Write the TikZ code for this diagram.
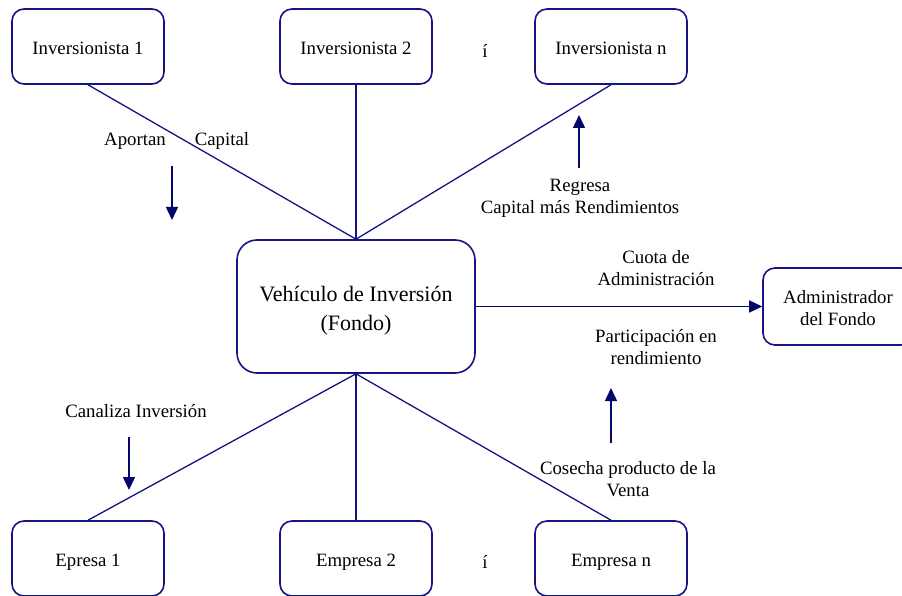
\documentclass[tikz,border=0pt]{standalone}
\usepackage{fontspec}
\setmainfont{Liberation Serif}
\usetikzlibrary{arrows.meta}
\definecolor{navyline}{RGB}{20,20,130}
\definecolor{navyarrow}{RGB}{5,5,110}
\begin{document}
\begin{tikzpicture}[x=1pt,y=-1pt,
 boxbase/.style={draw=navyline,line width=1.6pt,rounded corners=12pt,minimum width=152pt,minimum height=75pt,inner sep=0pt,font=\fontsize{18.8}{22}\selectfont,align=center},
 box/.style={boxbase,text height=16pt,text depth=0.6pt},
 bigbox/.style={boxbase,rounded corners=20pt,minimum width=238pt,minimum height=133pt,font=\fontsize{22}{29}\selectfont},
 conn/.style={draw=navyline,line width=1.3pt},
 lbl/.style={font=\fontsize{18.8}{22}\selectfont,align=center,inner sep=0pt},
 flow/.style={draw=navyarrow,line width=1.5pt,-{Triangle[width=12pt,length=13pt]}}]
\useasboundingbox (0,0) rectangle (902,596);
% boxes
\node[box] (inv1) at (88,46.5) {Inversionista 1};
\node[box] (inv2) at (356,46.5) {Inversionista 2};
\node[box] (invn) at (611,46.5) {Inversionista n};
\node[lbl] (dots1) at (485,50.5) {í};
\node[bigbox] (veh) at (356,306.5) {\rule{0pt}{24pt}Vehículo de Inversión\\(Fondo)};
\node[boxbase,minimum width=150pt,minimum height=77pt] (adm) at (838,306.5) {\rule{0pt}{16.5pt}Administrador\\del Fondo};
\node[box] (e1) at (88,558.5) {Epresa 1};
\node[box] (e2) at (356,558.5) {Empresa 2};
\node[box] (en) at (611,558.5) {Empresa n};
\node[lbl] (dots2) at (485,561.5) {í};
% connectors
\draw[conn] (inv1.south) -- (veh.north);
\draw[conn] (inv2.south) -- (veh.north);
\draw[conn] (invn.south) -- (veh.north);
\draw[conn] (veh.south) -- (e1.north);
\draw[conn] (veh.south) -- (e2.north);
\draw[conn] (veh.south) -- (en.north);
\draw[flow] (veh.east) -- (adm.west);
% labels
\node[lbl] (l1) at (135,141) {Aportan};
\node[lbl] (l2) at (222,141) {Capital};
\node[lbl] (l3) at (580,198.5) {Regresa\\Capital más Rendimientos};
\node[lbl] (l4) at (656,268) {Cuota de\\Administración};
\node[lbl] (l5) at (656,347) {Participación en\\rendimiento};
\node[lbl] (l6) at (628,479) {Cosecha producto de la\\Venta};
\node[lbl] (l7) at (136,411) {Canaliza Inversión};
% free arrows
\coordinate (a1s) at (172,166); \coordinate (a1e) at (172,220);
\coordinate (a2s) at (579,168); \coordinate (a2e) at (579,115);
\coordinate (a3s) at (611,443); \coordinate (a3e) at (611,388);
\coordinate (a4s) at (129,437); \coordinate (a4e) at (129,490);
\draw[flow] (a1s) -- (a1e);
\draw[flow] (a2s) -- (a2e);
\draw[flow] (a3s) -- (a3e);
\draw[flow] (a4s) -- (a4e);
\end{tikzpicture}
\end{document}
